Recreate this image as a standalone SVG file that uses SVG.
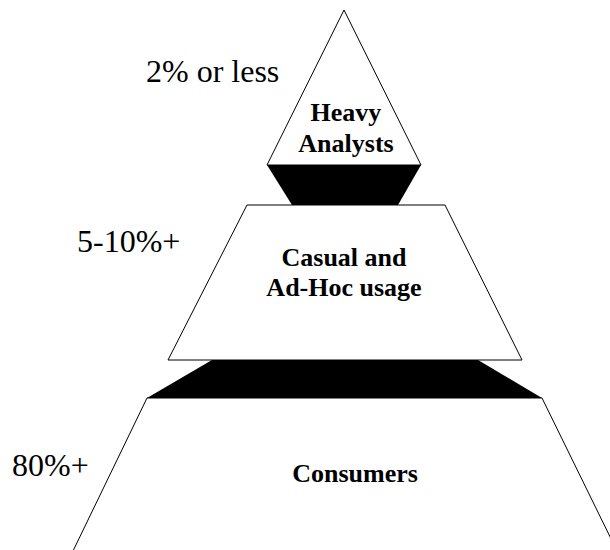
<svg xmlns="http://www.w3.org/2000/svg" width="610" height="550" viewBox="0 0 610 550">
<style>
.w{fill:#fff;stroke:#000;stroke-width:1}
.b{fill:#000;stroke:none}
.pct{font-family:"Liberation Serif","Times New Roman",serif;font-size:32px;fill:#000}
.lbl{font-family:"Liberation Serif","Times New Roman",serif;font-size:26px;font-weight:bold;fill:#000;text-anchor:middle}
</style>
<rect width="610" height="550" fill="#fff"/>
<g id="connectors">
<polygon class="b" points="267,165 421,165 398,205 292,205"/>
<polygon class="b" points="212,360 478,360 542,398 147,398"/>
</g>
<g id="heavy">
<polygon class="w" points="344,10 421,165 267,165"/>
<text class="lbl" x="346" y="121">Heavy</text>
<text class="lbl" x="346" y="152">Analysts</text>
</g>
<g id="casual">
<polygon class="w" points="247,205 445,205 522,360 168,360"/>
<text class="lbl" x="344" y="266">Casual and</text>
<text class="lbl" x="344" y="296">Ad-Hoc usage</text>
</g>
<g id="consumers">
<path class="w" d="M73,551 L147,398 L542,398 L617,551"/>
<text class="lbl" x="355" y="482">Consumers</text>
</g>
<g id="labels">
<text class="pct" x="146" y="82">2% or less</text>
<text class="pct" x="77" y="252">5-10%+</text>
<text class="pct" x="12" y="476">80%+</text>
</g>
</svg>
